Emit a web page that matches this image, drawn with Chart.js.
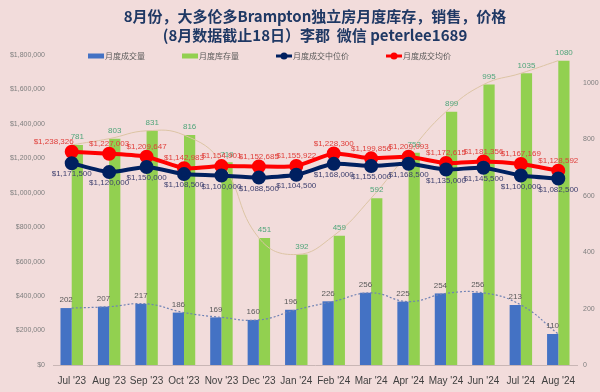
<!DOCTYPE html>
<html>
<head>
<meta charset="utf-8">
<script src="https://cdn.jsdelivr.net/npm/chart.js@4/dist/chart.umd.min.js"></script>
<style>
  html, body { margin: 0; padding: 0; background: #f2dcdb; }
  #wrap { width: 600px; height: 392px; position: relative; }
</style>
</head>
<body>
<div id="wrap"><canvas id="c"></canvas></div>
<script>
var months = ["Jul '23", "Aug '23", "Sep '23", "Oct '23", "Nov '23", "Dec '23", "Jan '24",
              "Feb '24", "Mar '24", "Apr '24", "May '24", "Jun '24", "Jul '24", "Aug '24"];
var salesCount = [202, 207, 217, 186, 169, 160, 196, 226, 256, 225, 254, 256, 213, 110];
var inventory = [781, 803, 831, 816, 719, 451, 392, 459, 592, 753, 899, 995, 1035, 1080];
var medianPrice = [1171500, 1120000, 1150000, 1108500, 1100000, 1088500, 1104500,
                   1168000, 1155000, 1168500, 1135000, 1145500, 1100000, 1082500];
var avgPrice = [1238326, 1227003, 1209647, 1142983, 1154901, 1152685, 1155922,
                1228300, 1199856, 1209093, 1172615, 1181356, 1167169, 1128592];
var titleLines = ['8月份，大多伦多Brampton独立房月度库存，销售，价格', '(8月数据截止18日）李郡  微信 peterlee1689'];

var cjk = "'Noto Sans CJK SC', sans-serif";
var num = "'Liberation Sans', Arial, sans-serif";

function money(v){ return '$' + Math.round(v).toLocaleString('en-US'); }
function plain(v){ return String(v); }

// small legend icons: bar swatch or line with dot
function makeIcon(type, color){
  var c = document.createElement('canvas');
  c.width = 16; c.height = 8;
  var g = c.getContext('2d');
  if(type === 'bar'){
    g.fillStyle = color; g.fillRect(0, 1.5, 16, 5);
  } else {
    g.strokeStyle = color; g.lineWidth = 3;
    g.beginPath(); g.moveTo(0, 4); g.lineTo(16, 4); g.stroke();
    g.fillStyle = color; g.beginPath(); g.arc(8, 4, 3.5, 0, Math.PI * 2); g.fill();
  }
  return c;
}

var valueLabels = {
  id: 'valueLabels',
  afterDatasetsDraw: function(chart){
    var ctx = chart.ctx;
    chart.data.datasets.forEach(function(ds, i){
      var lab = ds.valueLabel;
      if(!lab){ return; }
      var meta = chart.getDatasetMeta(i);
      meta.data.forEach(function(el, j){
        var text = lab.format(ds.data[j]);
        ctx.save();
        ctx.font = '8px ' + num;
        ctx.fillStyle = lab.color;
        ctx.textBaseline = 'middle';
        ctx.textAlign = 'center';
        var x = el.x;
        if(lab.firstRight && j === 0){ ctx.textAlign = 'right'; x = el.x + 2; }
        ctx.fillText(text, x, el.y + lab.dy);
        ctx.restore();
      });
    });
  }
};

// legend sits inside the plot area, on the top row
var insideLegend = {
  id: 'insideLegend',
  afterDraw: function(chart){
    var ctx = chart.ctx;
    var x = chart.chartArea.left + 35;
    var y = chart.chartArea.top + 1;
    ctx.save();
    ctx.font = '8px ' + cjk;
    ctx.textBaseline = 'middle';
    ctx.textAlign = 'left';
    chart.data.datasets.slice(0, 4).forEach(function(ds){
      ctx.drawImage(ds.icon, x, y - 4);
      ctx.fillStyle = '#595959';
      ctx.fillText(ds.label, x + 17, y);
      x += 17 + ctx.measureText(ds.label).width + 37;
    });
    ctx.restore();
  }
};

var ctx = document.getElementById('c').getContext('2d');
var chart = new Chart(ctx, {
  type: 'bar',
  data: {
    labels: months,
    datasets: [
      { type: 'bar', label: '月度成交量', data: salesCount, yAxisID: 'y1', backgroundColor: '#4472c4', order: 3,
        icon: makeIcon('bar', '#4472c4'), valueLabel: { color: '#595959', dy: -8, format: plain } },
      { type: 'bar', label: '月度库存量', data: inventory, yAxisID: 'y1', backgroundColor: '#92d050', order: 3,
        icon: makeIcon('bar', '#92d050'), valueLabel: { color: '#4fa57a', dy: -8, format: plain } },
      { type: 'line', label: '月度成交中位价', data: medianPrice, yAxisID: 'y', borderColor: '#002060', backgroundColor: '#002060',
        borderWidth: 4, pointRadius: 5, tension: 0.2, order: 1,
        icon: makeIcon('line', '#002060'), valueLabel: { color: '#3d3f6e', dy: 11, format: money } },
      { type: 'line', label: '月度成交均价', data: avgPrice, yAxisID: 'y', borderColor: '#ff0000', backgroundColor: '#ff0000',
        borderWidth: 4, pointRadius: 5, tension: 0.2, order: 1,
        icon: makeIcon('line', '#ff0000'), valueLabel: { color: '#e0403c', dy: -10, format: money, firstRight: true } },
      { type: 'line', label: 'inv trend', data: inventory, yAxisID: 'y1', borderColor: '#dcc4a4', borderWidth: 1,
        pointRadius: 0, tension: 0.45, order: 2 },
      { type: 'line', label: 'sales trend', data: salesCount, yAxisID: 'y1', borderColor: '#6f82b4', borderWidth: 1.2,
        borderDash: [2, 2], pointRadius: 0, tension: 0.45, order: 2 }
    ]
  },
  options: {
    responsive: true,
    maintainAspectRatio: false,
    animation: false,
    devicePixelRatio: 1,
    layout: { padding: 0 },
    datasets: { bar: { categoryPercentage: 0.6, barPercentage: 1.0 } },
    plugins: {
      title: {
        display: true, text: titleLines, color: '#1f3864', fullSize: false,
        font: { family: cjk, size: 15, weight: 'bold', lineHeight: 1.27 },
        padding: { top: 7, bottom: 9.9 }
      },
      legend: { display: false },
      tooltip: { enabled: false }
    },
    scales: {
      x: {
        grid: { display: false, drawTicks: false },
        border: { display: true, color: '#c9b6b5' },
        ticks: { color: '#404040', font: { family: num, size: 10 }, padding: 10, maxRotation: 0, autoSkip: false },
        afterFit: function(s){ s.height = 27; }
      },
      y: {
        position: 'left', min: 0, max: 1800000,
        grid: { display: false, drawTicks: false }, border: { display: false },
        ticks: { stepSize: 200000, color: '#7f7f7f', font: { family: num, size: 7 }, padding: 8,
                 callback: function(v){ return money(v); } },
        afterFit: function(s){ s.width = 53; }
      },
      y1: {
        position: 'right', min: 0, max: 1100,
        grid: { display: false, drawTicks: false }, border: { display: false },
        ticks: { stepSize: 200, color: '#7f7f7f', font: { family: num, size: 7 }, padding: 6,
                 callback: function(v){ return plain(v); } },
        afterBuildTicks: function(s){ s.ticks = s.ticks.filter(function(t){ return t.value <= 1000; }); },
        afterFit: function(s){ s.width = 23; }
      }
    }
  },
  plugins: [valueLabels, insideLegend]
});
</script>
</body>
</html>
